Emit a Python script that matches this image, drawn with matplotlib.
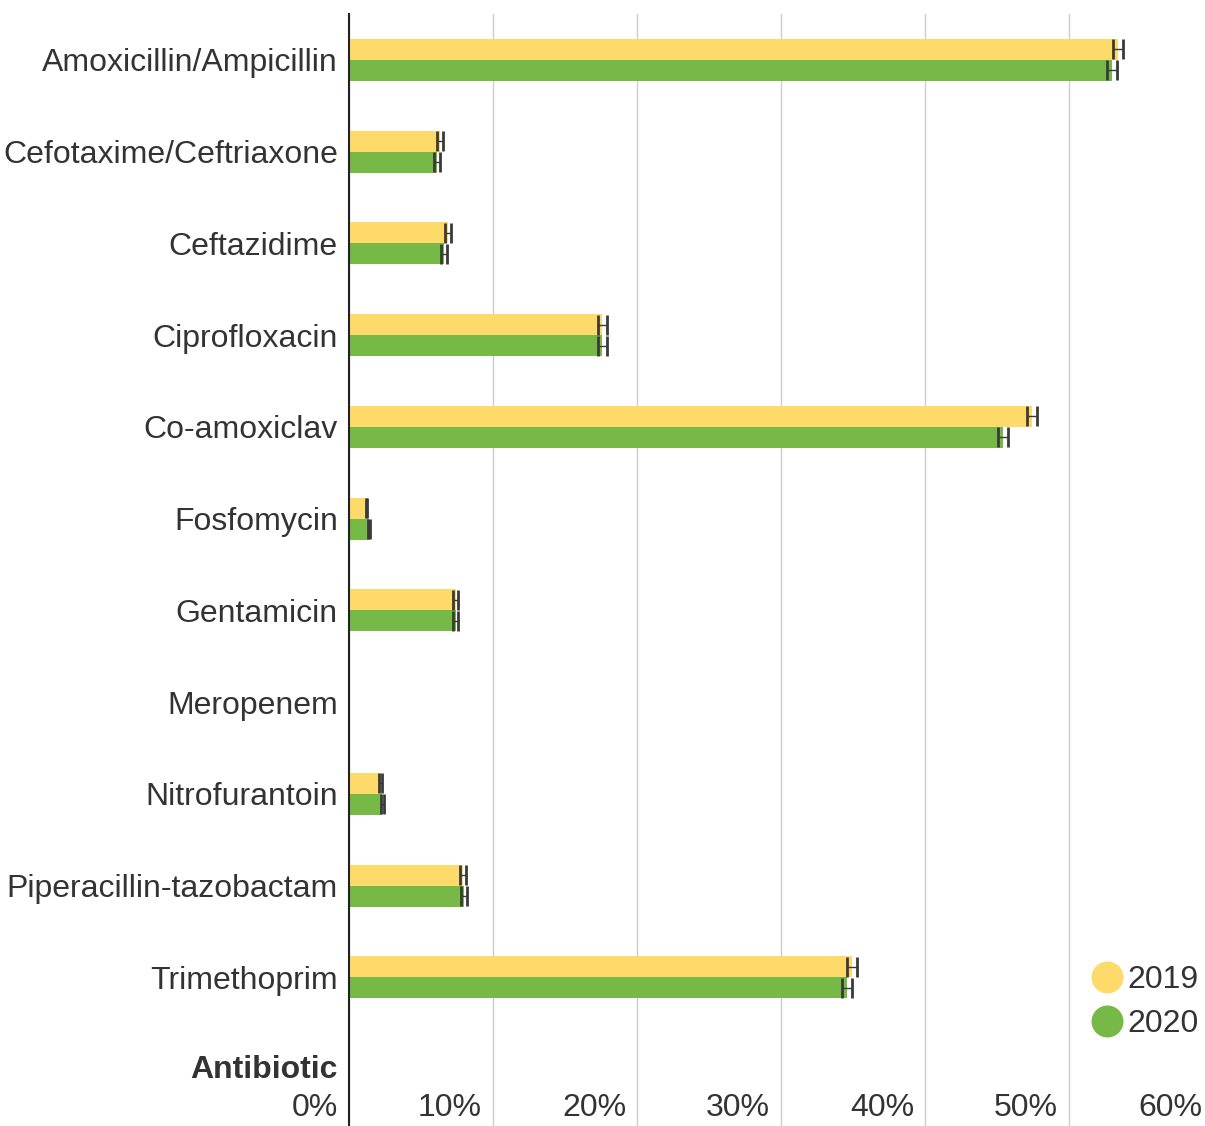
import numpy as np
import matplotlib.pyplot as plt
import matplotlib.transforms as mtransforms
from matplotlib.lines import Line2D

plt.rcParams['font.family'] = ['Liberation Sans', 'DejaVu Sans']

# Data (% resistant)
antibiotics = ['Amoxicillin/Ampicillin', 'Cefotaxime/Ceftriaxone', 'Ceftazidime',
               'Ciprofloxacin', 'Co-amoxiclav', 'Fosfomycin', 'Gentamicin',
               'Meropenem', 'Nitrofurantoin', 'Piperacillin-tazobactam', 'Trimethoprim']
vals_2019 = [53.4, 6.3, 6.9, 17.6, 47.4, 1.2, 7.4, 0.0, 2.2, 7.9, 34.9]
vals_2020 = [53.0, 6.1, 6.6, 17.6, 45.4, 1.4, 7.4, 0.0, 2.3, 8.0, 34.6]
err_2019 = [0.35, 0.2, 0.2, 0.3, 0.35, 0.05, 0.2, np.nan, 0.1, 0.2, 0.35]
err_2020 = [0.35, 0.2, 0.2, 0.3, 0.35, 0.05, 0.2, np.nan, 0.1, 0.2, 0.35]
years = ['2019', '2020']
xticks = [0, 10, 20, 30, 40, 50, 60]

c2019 = '#FEDA6A'
c2020 = '#76B947'
text_c = '#333333'
fs = 23

fig = plt.figure(figsize=(12.05, 11.26), dpi=100)
ax = fig.add_axes([349 / 1205, 0, (1213 - 349) / 1205, 1 - 14 / 1126])

y = np.arange(len(antibiotics))
h = 0.23
ax.barh(y - h / 2, vals_2019, height=h, color=c2019, zorder=2)
ax.barh(y + h / 2, vals_2020, height=h, color=c2020, zorder=2)
ax.errorbar(vals_2019, y - h / 2, xerr=err_2019, fmt='none', ecolor='#3a3a3a',
            elinewidth=1, capsize=7, capthick=2, zorder=3)
ax.errorbar(vals_2020, y + h / 2, xerr=err_2020, fmt='none', ecolor='#3a3a3a',
            elinewidth=1, capsize=7, capthick=2, zorder=3)

ax.set_xlim(0, 60)
ax.set_ylim(len(antibiotics) - 1 + 1.62, -0.5)

for s in ['top', 'right', 'bottom']:
    ax.spines[s].set_visible(False)
ax.spines['left'].set_color('#222222')
ax.spines['left'].set_linewidth(1.5)

ax.set_xticks(xticks)
ax.set_xticklabels([])
ax.tick_params(axis='x', length=0)
ax.grid(axis='x', color='#cccccc', linewidth=1, zorder=0)

ax.set_yticks(y)
ax.set_yticklabels(antibiotics, fontsize=fs, color=text_c)
ax.tick_params(axis='y', length=0, pad=8)

# x tick labels drawn inside the axes, right-aligned left of each gridline
off = mtransforms.offset_copy(ax.get_xaxis_transform(), fig=fig, x=-11, y=0, units='dots')
for t in xticks:
    ax.text(t, 18 / 1112, f'{t}%', transform=off, ha='right', va='center',
            fontsize=fs, color=text_c)

ax.text(0, len(antibiotics) + 0.01, 'Antibiotic', transform=mtransforms.offset_copy(
    ax.transData, fig=fig, x=-11, y=0, units='dots'), ha='right', va='center',
    fontsize=fs, fontweight='bold', color=text_c)

handles = [Line2D([], [], marker='o', linestyle='none', markersize=22,
                  markerfacecolor=c, markeredgecolor=c) for c in (c2019, c2020)]
fig.legend(handles, years, loc='lower right', bbox_to_anchor=(1.011, 0.06),
           frameon=False, fontsize=fs, handletextpad=0.15, labelspacing=0.45,
           labelcolor=text_c, handlelength=1.0, borderaxespad=0.2)

fig.savefig('out.png', dpi=100)
